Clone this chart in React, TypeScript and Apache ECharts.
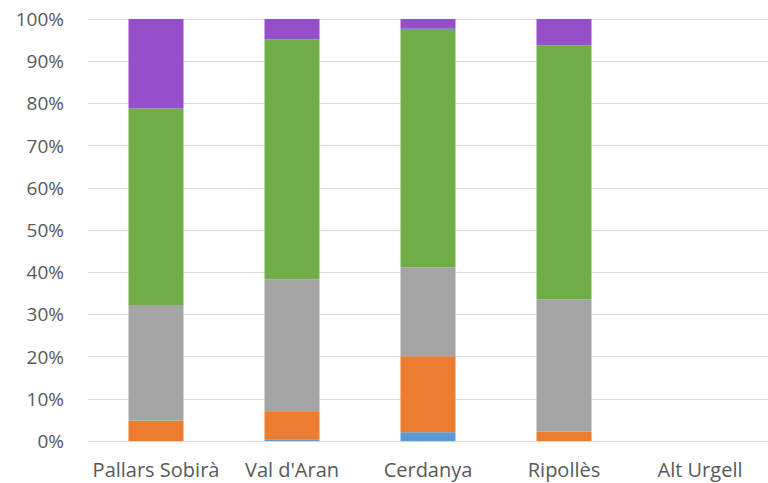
import React, { useEffect, useRef } from "react";
import * as echarts from "echarts";

const categories = ["Pallars Sobirà", "Val d'Aran", "Cerdanya", "Ripollès", "Alt Urgell"];
const blueValues = [0, 0.4, 2.1, 0, 0];
const orangeValues = [4.8, 6.5, 18.0, 2.2, 0];
const grayValues = [27.4, 31.4, 21.1, 31.4, 0];
const greenValues = [46.6, 56.9, 56.5, 60.2, 0];
const purpleValues = [21.2, 4.8, 2.3, 6.2, 0];
const seriesColors = ["#5B9BD5", "#ED7D31", "#A5A5A5", "#70AD47", "#954FC8"];

export default function App() {
  const ref = useRef<HTMLDivElement>(null);
  useEffect(() => {
    if (!ref.current) return;
    const chart = echarts.init(ref.current, undefined, { renderer: "svg" });
    const all = [blueValues, orangeValues, grayValues, greenValues, purpleValues];
    chart.setOption({
      animation: false,
      grid: { left: 88, top: 19, width: 685, height: 422, containLabel: false },
      xAxis: {
        type: "category",
        data: categories,
        axisLine: { lineStyle: { color: "#D9D9D9", width: 1 } },
        axisTick: { show: false },
        axisLabel: { color: "#595959", fontSize: 20, fontFamily: "Open Sans", margin: 18, interval: 0 },
      },
      yAxis: {
        type: "value",
        min: 0,
        max: 100,
        interval: 10,
        axisLine: { show: false },
        axisTick: { show: false },
        splitLine: { lineStyle: { color: "#D9D9D9", width: 1 } },
        axisLabel: { color: "#595959", fontSize: 19, fontFamily: "Open Sans", margin: 24, formatter: "{value}%" },
      },
      series: all.map((vals, i) => ({
        type: "bar",
        stack: "total",
        data: vals,
        barWidth: 55,
        itemStyle: { color: seriesColors[i] },
      })),
    });
    return () => chart.dispose();
  }, []);
  return (
    <div
      ref={ref}
      style={{ position: "fixed", left: 0, top: 0, width: 768, height: 483, background: "#fff" }}
    />
  );
}
